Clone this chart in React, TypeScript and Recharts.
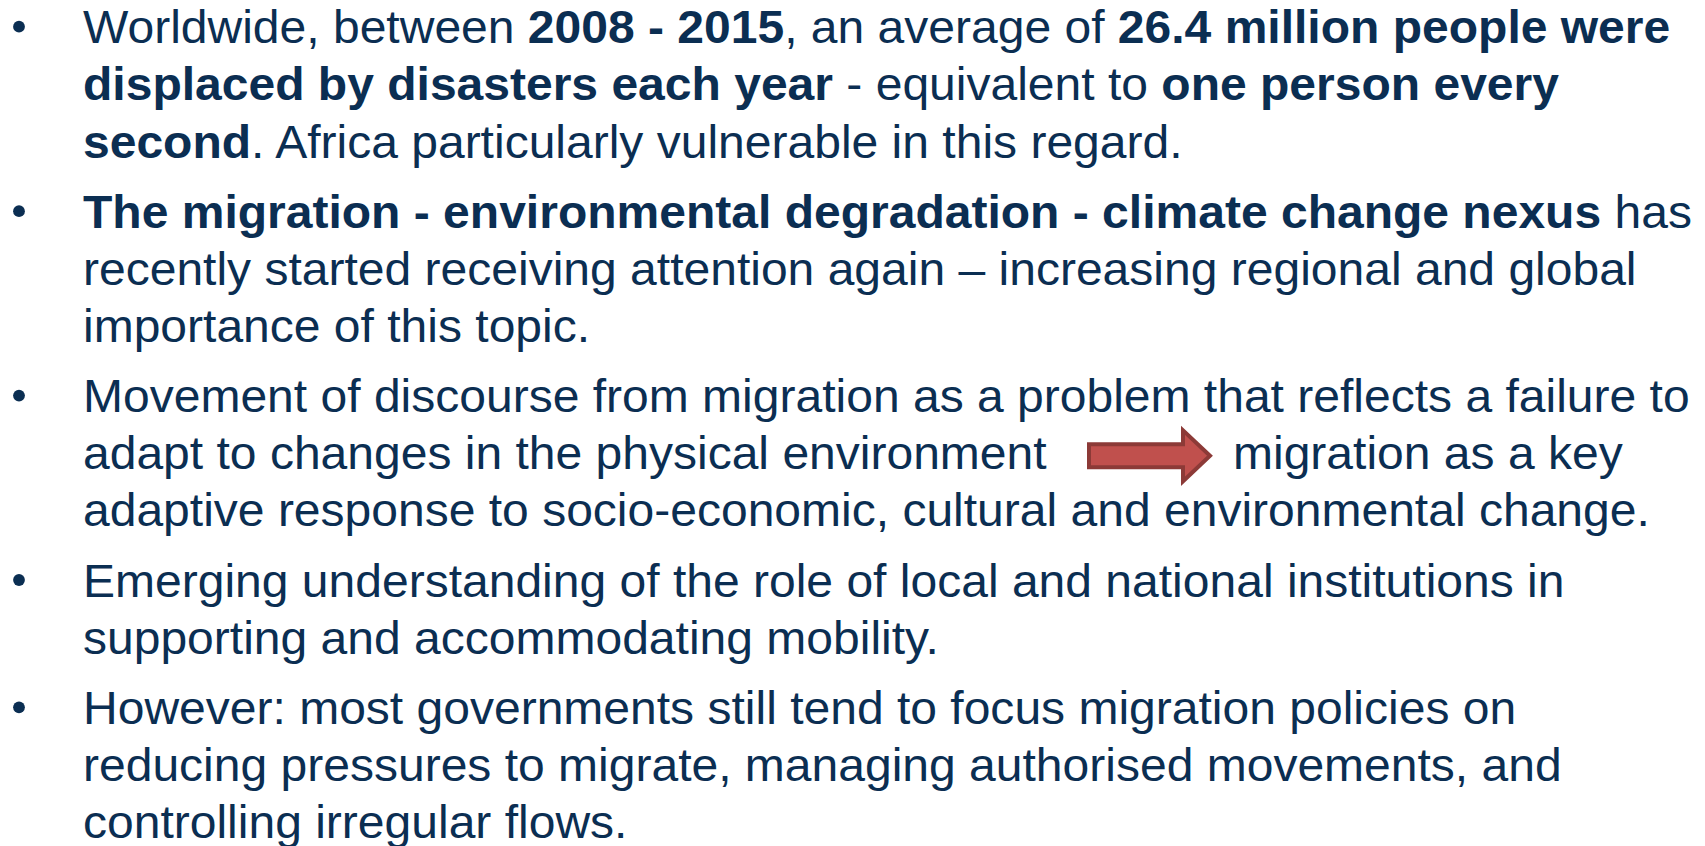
import React from 'react';
import { ScatterChart, Scatter, XAxis, YAxis } from 'recharts';

// Slide content: each bullet is a list of wrapped lines. **bold** marks bold runs, {ARROW} marks the inline arrow.
const bullet1 = [
  'Worldwide, between **2008 - 2015**, an average of **26.4 million people were**',
  '**displaced by disasters each year** - equivalent to **one person every**',
  '**second**. Africa particularly vulnerable in this regard.',
];
const bullet2 = [
  '**The migration - environmental degradation - climate change nexus** has',
  'recently started receiving attention again \u2013 increasing regional and global',
  'importance of this topic.',
];
const bullet3 = [
  'Movement of discourse from migration as a problem that reflects a failure to',
  'adapt to changes in the physical environment{ARROW}migration as a key',
  'adaptive response to socio-economic, cultural and environmental change.',
];
const bullet4 = [
  'Emerging understanding of the role of local and national institutions in',
  'supporting and accommodating mobility.',
];
const bullet5 = [
  'However: most governments still tend to focus migration policies on',
  'reducing pressures to migrate, managing authorised movements, and',
  'controlling irregular flows.',
];
const bullets = [bullet1, bullet2, bullet3, bullet4, bullet5];

// layout / style constants
const W = 1705;
const H = 846;
const LINE_PX = 57.1;
const FIRST_BASELINE = 43.3;
const PARA_GAP = 0.23; // extra space between bullets, in line units
const TEXT_LEFT = 83;
const FONT_SIZE = 46;
const X_STRETCH = 1.044;
const TEXT_COLOR = '#0b2e52';
const FONT = "'Liberation Sans', Arial, Helvetica, sans-serif";
const ARROW_START = 1004; // from text start
const AFTER_ARROW = 1150;

type Row = { x: number; slot: number; text: string; first: boolean };
const rows: Row[] = [];
let lineCount = 0;
bullets.forEach((b, p) => {
  b.forEach((t, i) => {
    rows.push({ x: 0, slot: lineCount + p * PARA_GAP, text: t, first: i === 0 });
    lineCount += 1;
  });
});

const Y_MIN = -FIRST_BASELINE / LINE_PX;
const Y_MAX = Y_MIN + H / LINE_PX;

const renderRuns = (s: string) => {
  const parts = s.split('**');
  return parts.map((t, i) => (
    <tspan key={i} fontWeight={i % 2 === 1 ? 700 : 400}>
      {t}
    </tspan>
  ));
};

const TextRun = ({ x, y, s }: { x: number; y: number; s: string }) => (
  <g transform={`translate(${x},${y}) scale(${X_STRETCH},1)`}>
    <text x={0} y={0} fontFamily={FONT} fontSize={FONT_SIZE} fill={TEXT_COLOR} style={{ whiteSpace: 'pre' }}>
      {renderRuns(s)}
    </text>
  </g>
);

const LineShape = (props: any) => {
  const { cx, cy, payload } = props;
  const pieces: string[] = payload.text.split('{ARROW}');
  return (
    <g>
      {payload.first && <circle cx={cx - 64} cy={cy - 16.6} r={5.9} fill={TEXT_COLOR} />}
      <TextRun x={cx} y={cy} s={pieces[0]} />
      {pieces.length > 1 && (
        <g>
          <path
            transform={`translate(${cx + ARROW_START},${cy})`}
            d="M2,-25 L96,-25 L96,-39 L123,-13.5 L96,12 L96,-2 L2,-2 Z"
            fill="#c0504d"
            stroke="#8c3a37"
            strokeWidth={4}
            strokeLinejoin="miter"
          />
          <TextRun x={cx + AFTER_ARROW} y={cy} s={pieces[1]} />
        </g>
      )}
    </g>
  );
};

export default function App() {
  return (
    <div style={{ width: W, height: H, background: '#ffffff' }}>
      <style>{'body{margin:0;background:#fff}'}</style>
      <ScatterChart width={W} height={H} margin={{ top: 0, right: 0, bottom: 0, left: TEXT_LEFT }}>
        <XAxis type="number" dataKey="x" domain={[0, 1]} hide />
        <YAxis type="number" dataKey="slot" domain={[Y_MIN, Y_MAX]} reversed hide width={0} />
        <Scatter data={rows} shape={LineShape} isAnimationActive={false} />
      </ScatterChart>
    </div>
  );
}
